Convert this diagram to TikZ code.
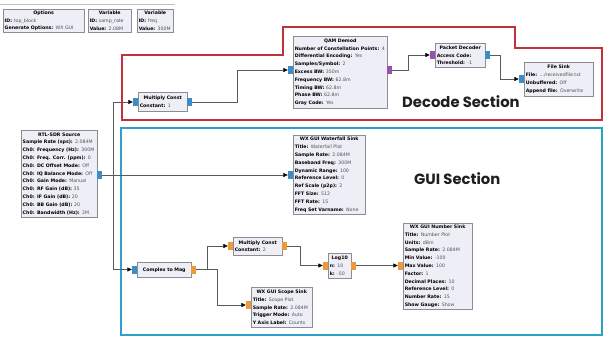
\documentclass[tikz,border=0pt]{standalone}
\usepackage{fontspec}
\setmainfont{DejaVu Sans}
\newfontfamily\popfont{Poppins}
\usetikzlibrary{arrows.meta}
\definecolor{boxfill}{HTML}{EEEEF6}
\definecolor{boxborder}{HTML}{8C8C94}
\definecolor{valgray}{HTML}{505058}
\definecolor{pblue}{HTML}{3E8CC6}
\definecolor{porange}{HTML}{EE9A3A}
\definecolor{ppurple}{HTML}{9A4FB0}
\definecolor{secred}{HTML}{C2303C}
\definecolor{secblue}{HTML}{2BA0CA}
\definecolor{wirecol}{HTML}{5A5A5A}
\newcommand{\gkv}[2]{\mbox{\textbf{#1:} \textcolor{valgray}{#2}}}
\newcommand{\gtitle}[1]{\hspace*{\fill}\textbf{#1}\hspace*{\fill}\null}
\tikzset{
  blk/.style={draw=boxborder, fill=boxfill, line width=0.5pt, anchor=north west,
    inner xsep=1.5pt, inner ysep=1.5pt, align=left,
    font=\fontsize{4.7}{7.8}\selectfont},
  portbox/.style={draw=none, minimum width=5pt, minimum height=8pt, inner sep=0pt},
  bport/.style={portbox, fill=pblue},
  oport/.style={portbox, fill=porange},
  vport/.style={portbox, fill=ppurple},
  conn/.style={draw=wirecol, line width=0.6pt, -{Triangle[length=4.5pt,width=4pt,fill=black,color=black]}},
  sectitle/.style={font=\popfont\bfseries\fontsize{14.8}{15}\selectfont, text=black!88, anchor=base west, inner sep=0pt}
}
\begin{document}
\begin{tikzpicture}[x=1pt,y=-1pt]
\useasboundingbox[fill=white] (0,0) rectangle (608,340);
\draw[black!25, line width=0.6pt] (0,4) -- (175,4);

% section frames
\draw[secred, line width=1.3pt] (122,55) -- (283,55) -- (283,27) -- (515,27) -- (515,48) -- (602,48) -- (602,120) -- (122,120) -- cycle;
\draw[secblue, line width=1.3pt] (121,128) rectangle (602,335);
\node[sectitle] (dectitle) at (402,107) {Decode Section};
\node[sectitle] (guititle) at (414,184) {GUI Section};

% top blocks
\node[blk, text width=78pt, minimum height=23pt] (opt) at (3,9) {\gtitle{Options}\\ \gkv{ID}{top\_block}\\ \gkv{Generate Options}{WX GUI}};
\node[blk, text width=40pt, minimum height=23pt] (var1) at (88,9) {\gtitle{Variable}\\ \gkv{ID}{samp\_rate}\\ \gkv{Value}{2.08M}};
\node[blk, text width=33pt, minimum height=23pt] (var2) at (137,9) {\gtitle{Variable}\\ \gkv{ID}{freq}\\ \gkv{Value}{300M}};

% RTL-SDR source
\node[blk, text width=73pt, minimum height=87pt] (rtl) at (21,130) {\gtitle{RTL-SDR Source}\\
 \gkv{Sample Rate (sps)}{2.084M}\\ \gkv{Ch0: Frequency (Hz)}{300M}\\ \gkv{Ch0: Freq. Corr. (ppm)}{0}\\
 \gkv{Ch0: DC Offset Mode}{Off}\\ \gkv{Ch0: IQ Balance Mode}{Off}\\ \gkv{Ch0: Gain Mode}{Manual}\\
 \gkv{Ch0: RF Gain (dB)}{35}\\ \gkv{Ch0: IF Gain (dB)}{20}\\ \gkv{Ch0: BB Gain (dB)}{20}\\
 \gkv{Ch0: Bandwidth (Hz)}{2M}};
\node[bport] (rtlout) at (99.5,175) {};

% decode section blocks
\node[blk, text width=46pt, minimum height=19pt] (mc1) at (138,92) {\gtitle{Multiply Const}\\ \gkv{Constant}{1}};
\node[bport] (mc1in) at (135.5,102) {};
\node[bport] (mc1out) at (189.5,102) {};

\node[blk, text width=91pt, minimum height=72pt] (qam) at (293,36) {\gtitle{QAM Demod}\\
 \gkv{Number of Constellation Points}{4}\\ \gkv{Differential Encoding}{Yes}\\ \gkv{Samples/Symbol}{2}\\
 \gkv{Excess BW}{350m}\\ \gkv{Frequency BW}{62.8m}\\ \gkv{Timing BW}{62.8m}\\ \gkv{Phase BW}{62.8m}\\
 \gkv{Gray Code}{Yes}};
\node[bport] (qamin) at (290.5,70) {};
\node[vport] (qamout) at (389.5,70) {};

\node[blk, text width=47pt, minimum height=24pt] (pkt) at (435,43) {\gtitle{Packet Decoder}\\ \textbf{Access Code:}\\ \gkv{Threshold}{-1}};
\node[vport] (pktin) at (432.5,55) {};
\node[bport] (pktout) at (487.5,55) {};

\node[blk, text width=66pt, minimum height=34pt] (fsink) at (524,62) {\gtitle{File Sink}\\ \gkv{File}{.../receivedfile.txt}\\ \gkv{Unbuffered}{Off}\\ \gkv{Append file}{Overwrite}};
\node[bport] (filein) at (521.5,79) {};

% GUI section blocks
\node[blk, text width=69pt, minimum height=79pt] (wf) at (293,135) {\gtitle{WX GUI Waterfall Sink}\\
 \gkv{Title}{Waterfall Plot}\\ \gkv{Sample Rate}{2.084M}\\ \gkv{Baseband Freq}{300M}\\
 \gkv{Dynamic Range}{100}\\ \gkv{Reference Level}{0}\\ \gkv{Ref Scale (p2p)}{2}\\
 \gkv{FFT Size}{512}\\ \gkv{FFT Rate}{15}\\ \gkv{Freq Set Varname}{None}};
\node[bport] (wfin) at (290.5,175) {};

\node[blk, text width=51pt, minimum height=15pt] (c2m) at (137,262) {\gtitle{Complex to Mag}};
\node[bport] (c2min) at (134.5,269.5) {};
\node[oport] (c2mout) at (193.5,269.5) {};

\node[blk, text width=46pt, minimum height=18pt] (mc2) at (233,237) {\gtitle{Multiply Const}\\ \gkv{Constant}{2}};
\node[oport] (mc2in) at (230.5,246) {};
\node[oport] (mc2out) at (284.5,246) {};

\node[blk, text width=20pt, minimum height=25pt] (lg) at (328,253) {\gtitle{Log10}\\ \gkv{n}{10}\\ \gkv{k}{-50}};
\node[oport] (login) at (325.5,265.5) {};
\node[oport] (logout) at (353.5,265.5) {};

\node[blk, text width=66pt, minimum height=86pt] (num) at (403,223) {\gtitle{WX GUI Number Sink}\\
 \gkv{Title}{Number Plot}\\ \gkv{Units}{dBm}\\ \gkv{Sample Rate}{2.084M}\\ \gkv{Min Value}{-100}\\
 \gkv{Max Value}{100}\\ \gkv{Factor}{1}\\ \gkv{Decimal Places}{10}\\ \gkv{Reference Level}{0}\\
 \gkv{Number Rate}{15}\\ \gkv{Show Gauge}{Show}};
\node[oport] (numin) at (400.5,265.5) {};

\node[blk, text width=58pt, minimum height=40pt] (scope) at (251,287) {\gtitle{WX GUI Scope Sink}\\
 \gkv{Title}{Scope Plot}\\ \gkv{Sample Rate}{2.084M}\\ \gkv{Trigger Mode}{Auto}\\ \gkv{Y Axis Label}{Counts}};
\node[oport] (scopein) at (248.5,305) {};

% bend coordinates
\coordinate (jA) at (113,175);
\coordinate (b1) at (237,70);
\coordinate (b2) at (408,55);
\coordinate (b3) at (500,79);
\coordinate (b4) at (207,246);
\coordinate (b5) at (217,305);
\coordinate (b6) at (300,265.5);

% connectors
\draw[conn] (rtlout.east) -- (wfin.west);
\draw[conn] (jA) |- (mc1in.west);
\draw[conn] (jA) |- (c2min.west);
\draw[conn] (mc1out.east) -| (b1) -- (qamin.west);
\draw[conn] (qamout.east) -| (b2) -- (pktin.west);
\draw[conn] (pktout.east) -| (b3) -- (filein.west);
\draw[conn] (c2mout.east) -| (b4) -- (mc2in.west);
\draw[conn] (c2mout.east) -| (b5) -- (scopein.west);
\draw[conn] (mc2out.east) -| (b6) -- (login.west);
\draw[conn] (logout.east) -- (numin.west);
\end{tikzpicture}
\end{document}
